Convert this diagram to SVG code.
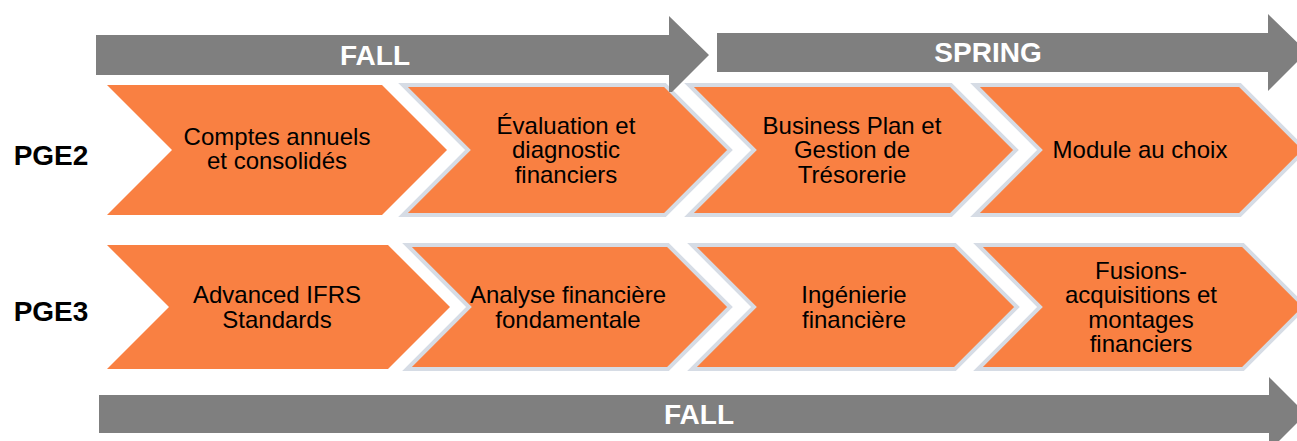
<svg xmlns="http://www.w3.org/2000/svg" width="1297" height="441" viewBox="0 0 1297 441">
<style>
.ch{fill:#F98042;}
.bd{fill:#F98042;stroke:#D6DCE5;stroke-width:4;stroke-linejoin:miter;}
.ar{fill:#7F7F7F;}
.t{font-family:"Liberation Sans",Arial,sans-serif;font-size:24px;fill:#000;text-anchor:middle;}
.h{font-family:"Liberation Sans",Arial,sans-serif;font-size:28px;font-weight:bold;fill:#fff;text-anchor:middle;}
.p{font-family:"Liberation Sans",Arial,sans-serif;font-size:28px;font-weight:bold;fill:#000;text-anchor:middle;}
</style>
<rect width="1297" height="441" fill="#fff"/>
<g id="label-pge2"><text class="p" x="51" y="165">PGE2</text></g>
<g id="label-pge3"><text class="p" x="51" y="321">PGE3</text></g>

<g id="pge2-1">
<polygon class="ch" points="107,85 382,85 447,150 382,215 107,215 172,150"/>
<text class="t" x="277" y="145">Comptes annuels</text>
<text class="t" x="277" y="169">et consolidés</text>
</g>
<g id="pge2-2">
<polygon class="bd" points="403,85 665,85 730,150 665,215 403,215 468,150"/>
<text class="t" x="566" y="134">Évaluation et</text>
<text class="t" x="566" y="158">diagnostic</text>
<text class="t" x="566" y="183">financiers</text>
</g>
<g id="pge2-3">
<polygon class="bd" points="689,85 951,85 1016,150 951,215 689,215 754,150"/>
<text class="t" x="852" y="134">Business Plan et</text>
<text class="t" x="852" y="158">Gestion de</text>
<text class="t" x="852" y="183">Trésorerie</text>
</g>
<g id="pge2-4">
<polygon class="bd" points="975,85 1240,85 1305,150 1240,215 975,215 1040,150"/>
<text class="t" x="1140" y="158">Module au choix</text>
</g>

<g id="pge3-1">
<polygon class="ch" points="107,245 388,245 450,307 388,369 107,369 169,307"/>
<text class="t" x="277" y="303">Advanced IFRS</text>
<text class="t" x="277" y="328">Standards</text>
</g>
<g id="pge3-2">
<polygon class="bd" points="407,245 668,245 730,307 668,369 407,369 469,307"/>
<text class="t" x="568" y="303">Analyse financière</text>
<text class="t" x="568" y="328">fondamentale</text>
</g>
<g id="pge3-3">
<polygon class="bd" points="692,245 955,245 1017,307 955,369 692,369 754,307"/>
<text class="t" x="854" y="303">Ingénierie</text>
<text class="t" x="854" y="328">financière</text>
</g>
<g id="pge3-4">
<polygon class="bd" points="978,245 1243,245 1305,307 1243,369 978,369 1040,307"/>
<text class="t" x="1141" y="279">Fusions-</text>
<text class="t" x="1141" y="303">acquisitions et</text>
<text class="t" x="1141" y="328">montages</text>
<text class="t" x="1141" y="352">financiers</text>
</g>

<g id="arrow-fall-top">
<polygon class="ar" points="96,35 669,35 669,16 709,55 672,92 669,92 669,75 96,75"/>
<text class="h" x="375" y="65">FALL</text>
</g>
<g id="arrow-spring">
<polygon class="ar" points="717,33 1268,33 1268,14 1307,52 1268,91 1268,72 717,72"/>
<text class="h" x="988" y="62">SPRING</text>
</g>
<g id="arrow-fall-bottom">
<polygon class="ar" points="99,395 1269,395 1269,377 1306,414 1269,451 1269,433 99,433"/>
<text class="h" x="699" y="424">FALL</text>
</g>
<g id="connectors"></g>
</svg>
